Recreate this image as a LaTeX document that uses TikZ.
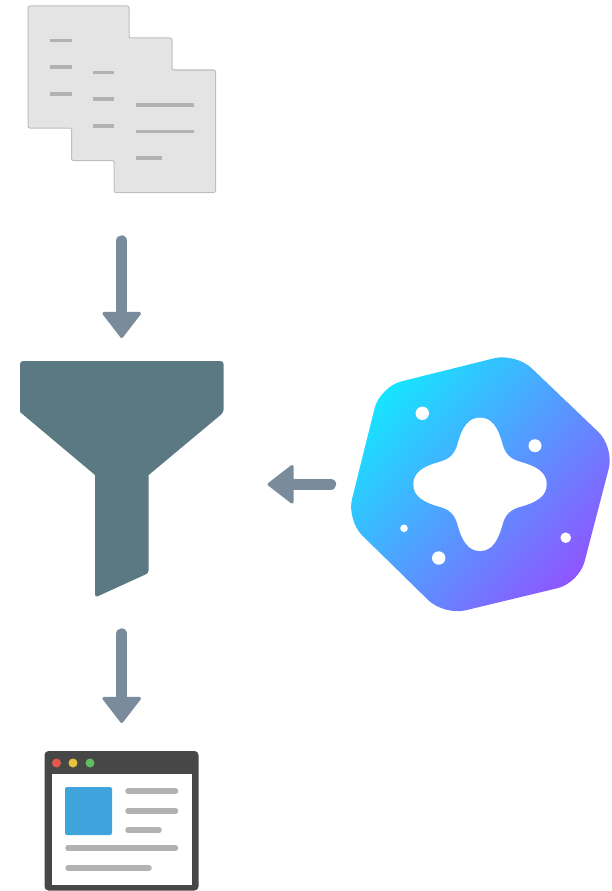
\documentclass[tikz,border=0pt]{standalone}
\usetikzlibrary{arrows.meta}
\definecolor{docfill}{HTML}{E4E4E4}
\definecolor{docedge}{HTML}{BEBEBE}
\definecolor{docline}{HTML}{B2B2B2}
\definecolor{funnelc}{HTML}{5A7982}
\definecolor{arrowc}{HTML}{7A8B9B}
\definecolor{windark}{HTML}{474747}
\definecolor{winblue}{HTML}{3FA3DC}
\definecolor{dotred}{HTML}{E5584B}
\definecolor{dotyellow}{HTML}{E8C33E}
\definecolor{dotgreen}{HTML}{5DBE62}
\definecolor{hexa}{HTML}{16E4FF}
\definecolor{hexb}{HTML}{4698FF}
\definecolor{hexc}{HTML}{8F55FF}
\tikzset{
  docline/.style={draw=docline,line width=3.6pt},
  winline/.style={draw=docline,line width=5.5pt,line cap=round},
  flow/.style={draw=arrowc,line width=11.4pt,line cap=round,
     -{Triangle[width=41pt,length=27pt,round,line width=3pt,fill=arrowc]}},
  spark/.style={fill=white},
}
\begin{document}
\begin{tikzpicture}[x=1pt,y=-1pt]
\useasboundingbox (0,0) rectangle (611,891);
% documents
\draw[fill=docfill,draw=docedge,line width=1pt,rounded corners=2pt]
  (28,6)--(129,6)--(129,38)--(172,38)--(172,70)--(215.5,70)--(215.5,192.5)--(114,192.5)--(114,160.5)--(71.5,160.5)--(71.5,128)--(28,128)--cycle;
\foreach \y in {40.5,67,94}{\draw[docline] (50,\y)--(72,\y);}
\foreach \y in {72.5,99,126}{\draw[docline] (93,\y)--(114,\y);}
\draw[docline] (136,104.7)--(194,104.7);
\draw[docline] (136,131.3)--(194,131.3);
\draw[docline] (136,158)--(161.5,158);
% funnel
\fill[funnelc]
  (95,475) [sharp corners] -- (20,412) [rounded corners=3pt] -- (20,361) -- (223.5,361) -- (223.5,412.5)
  [sharp corners] -- (148.7,475) [rounded corners=3pt] -- (148.7,573) -- (95,597.5) [sharp corners] -- (95,475) -- cycle;
% arrows
\coordinate (docsOut) at (121.7,241);
\coordinate (funnelIn) at (121.7,338);
\coordinate (funnelOut) at (121.7,634);
\coordinate (winIn) at (121.7,723);
\coordinate (hexOut) at (330.5,484.3);
\coordinate (funnelSide) at (267.5,484.3);
\draw[flow] (docsOut)--(funnelIn);
\draw[flow] (funnelOut)--(winIn);
\draw[flow] (hexOut)--(funnelSide);
% hexagon badge
\shade[top color=hexa,middle color=hexb,bottom color=hexc,shading angle=48,rounded corners=22pt]
  (380,386.7)--(515.6,352.9)--(614.3,447.2)--(579,583)--(444,615.5)--(346.7,520.3)--cycle;
% star
\fill[spark,shift={(480,484.3)}]
  (0,-66.7) .. controls (12,-66.7) and (18,-56) .. (22,-42)
  .. controls (25,-30) and (30,-25) .. (42,-22)
  .. controls (56,-18) and (66.7,-12) .. (66.7,0)
  .. controls (66.7,12) and (56,18) .. (42,22)
  .. controls (30,25) and (25,30) .. (22,42)
  .. controls (18,56) and (12,66.7) .. (0,66.7)
  .. controls (-12,66.7) and (-18,56) .. (-22,42)
  .. controls (-25,30) and (-30,25) .. (-42,22)
  .. controls (-56,18) and (-66.7,12) .. (-66.7,0)
  .. controls (-66.7,-12) and (-56,-18) .. (-42,-22)
  .. controls (-30,-25) and (-25,-30) .. (-22,-42)
  .. controls (-18,-56) and (-12,-66.7) .. (0,-66.7) -- cycle;
\fill[spark] (422.3,413.3) circle (6.7);
\fill[spark] (535,445.7) circle (6.5);
\fill[spark] (565.7,537.7) circle (5.3);
\fill[spark] (438.7,558) circle (6.7);
\fill[spark] (404,528.3) circle (3.8);
% window
\fill[windark,rounded corners=4pt] (44.5,751)rectangle(198.5,890.5);
\fill[white] (51.5,773.5) rectangle (191.5,884.5);
\fill[dotred] (56.5,763) circle (4.5);
\fill[dotyellow] (73,763) circle (4.5);
\fill[dotgreen] (90,763) circle (4.5);
\fill[winblue,rounded corners=2pt] (65,787) rectangle (112,835);
\draw[winline] (128,791)--(175.5,791);
\draw[winline] (128,811)--(175.5,811);
\draw[winline] (128,830)--(159,830);
\draw[winline] (68,848)--(175.5,848);
\draw[winline] (68,868)--(149,868);
\end{tikzpicture}
\end{document}
